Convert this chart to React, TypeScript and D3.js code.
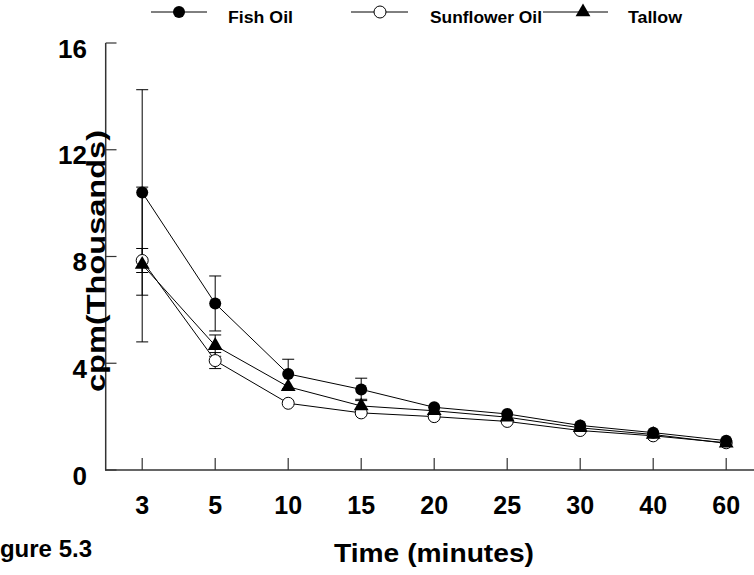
import * as d3 from "d3";
import React from "react";

const times = ["3", "5", "10", "15", "20", "25", "30", "40", "60"];
const fishOil = [10.4, 6.24, 3.6, 3.02, 2.35, 2.1, 1.67, 1.4, 1.1];
const fishOilErr = [3.85, 1.03, 0.55, 0.42, 0, 0, 0, 0, 0];
const sunflowerOil = [7.85, 4.1, 2.5, 2.14, 2.0, 1.82, 1.48, 1.28, 1.02];
const sunflowerOilErr = [0.45, 0.3, 0, 0, 0, 0, 0, 0, 0];
const tallow = [7.7, 4.66, 3.12, 2.4, 2.22, 1.98, 1.58, 1.33, 1.0];
const tallowErr = [2.9, 0.4, 0, 0.25, 0, 0, 0, 0, 0];
const yTicks = [0, 4, 8, 12, 16];

const W = 754
const H = 575
const font = "'Liberation Sans', Arial, sans-serif"

type SeriesT = { name: string, values: number[], errs: number[], marker: "dot" | "open" | "tri" }

const series: SeriesT[] = [
  { name: "Fish Oil", values: fishOil, errs: fishOilErr, marker: "dot" },
  { name: "Sunflower Oil", values: sunflowerOil, errs: sunflowerOilErr, marker: "open" },
  { name: "Tallow", values: tallow, errs: tallowErr, marker: "tri" },
]
// markers drawn back to front
const drawOrder = [series[1], series[2], series[0]]

const triPath = d3.symbol(d3.symbolTriangle, 95)()

function Marker({ kind, x, y }: { kind: string, x: number, y: number }) {
  if (kind === "dot") return <circle cx={x} cy={y} r={6} fill="#000" />
  if (kind === "open") return <circle cx={x} cy={y} r={6} fill="#fff" stroke="#000" strokeWidth={1} />
  return <path d={triPath || ""} transform={`translate(${x},${y})`} fill="#000" />
}

export default function App() {
  const x = d3.scalePoint<string>().domain(times).range([105.7, 762.7]).padding(0.5)
  const y = d3.scaleLinear().domain([0, 16]).range([470, 43])
  const line = d3.line<number>().x((d, i) => x(times[i]) as number).y(d => y(d))

  const legend = [
    { s: series[0], lx1: 151, lx2: 207, mx: 179, tx: 228, tl: 65 },
    { s: series[1], lx1: 351, lx2: 408, mx: 380, tx: 430, tl: 112 },
    { s: series[2], lx1: 543, lx2: 608, mx: 583, tx: 628, tl: 54 },
  ]

  return (
    <svg width={W} height={H} style={{ position: "absolute", left: 0, top: 0, background: "#fff" }} fontFamily={font} fontWeight="bold">
      {/* axes */}
      <line x1={105.7} x2={105.7} y1={43} y2={470.5} stroke="#333" strokeWidth={1.5} />
      <line x1={105} x2={W} y1={470} y2={470} stroke="#333" strokeWidth={1.5} />
      {yTicks.map(t => (
        <g key={t}>
          <line x1={105.7} x2={116.5} y1={y(t)} y2={y(t)} stroke="#333" strokeWidth={1.2} />
          <text x={87} y={y(t) + 14.5} textAnchor="end" fontSize={26}>{t}</text>
        </g>
      ))}
      {times.map(t => (
        <g key={t}>
          <line x1={x(t)} x2={x(t)} y1={458} y2={470} stroke="#333" strokeWidth={1.2} />
          <text x={x(t)} y={514} textAnchor="middle" fontSize={25}>{t}</text>
        </g>
      ))}
      <text x={434} y={562} textAnchor="middle" fontSize={25} textLength={200} lengthAdjust="spacingAndGlyphs">Time (minutes)</text>
      <text transform="translate(105,261) rotate(-90)" textAnchor="middle" fontSize={25} textLength={262} lengthAdjust="spacingAndGlyphs">cpm(Thousands)</text>
      <text x={92} y={557} textAnchor="end" fontSize={24}>Figure 5.3</text>

      {/* error bars */}
      {series.map(s => s.values.map((v, i) => s.errs[i] > 0 ? (
        <g key={s.name + i} stroke="#000" strokeWidth={1}>
          <line x1={x(times[i])} x2={x(times[i])} y1={y(v + s.errs[i])} y2={y(v - s.errs[i])} />
          <line x1={(x(times[i]) as number) - 6} x2={(x(times[i]) as number) + 6} y1={y(v + s.errs[i])} y2={y(v + s.errs[i])} />
          <line x1={(x(times[i]) as number) - 6} x2={(x(times[i]) as number) + 6} y1={y(v - s.errs[i])} y2={y(v - s.errs[i])} />
        </g>
      ) : null))}

      {/* lines */}
      {series.map(s => (
        <path key={s.name} d={line(s.values) || ""} fill="none" stroke="#000" strokeWidth={1} />
      ))}
      {drawOrder.map(s => s.values.map((v, i) => (
        <Marker key={s.name + "m" + i} kind={s.marker} x={x(times[i]) as number} y={y(v)} />
      )))}

      {/* legend */}
      {legend.map(l => (
        <g key={l.s.name}>
          <line x1={l.lx1} x2={l.lx2} y1={12} y2={12} stroke="#000" strokeWidth={1} />
          <Marker kind={l.s.marker} x={l.mx} y={12} />
          <text x={l.tx} y={23} fontSize={16} textLength={l.tl} lengthAdjust="spacingAndGlyphs">{l.s.name}</text>
        </g>
      ))}
    </svg>
  );
}
